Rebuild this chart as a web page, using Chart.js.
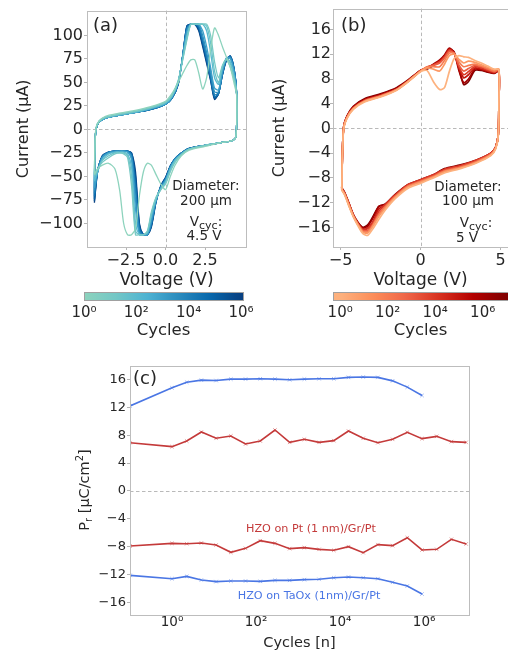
<!DOCTYPE html>
<html>
<head>
<meta charset="utf-8">
<script src="https://cdn.jsdelivr.net/npm/chart.js@4.4.0/dist/chart.umd.min.js"></script>
<style>
  html, body { margin: 0; padding: 0; background: #fff; overflow: hidden; }
  #page { position: relative; width: 508px; height: 650px; overflow: hidden; }
  canvas { position: absolute; left: 0; top: 0; }
</style>
</head>
<body>
<div id="page">
  <canvas id="pa" width="530" height="660"></canvas>
  <canvas id="pb" width="530" height="660"></canvas>
  <canvas id="ca" width="530" height="660"></canvas>
  <canvas id="cb" width="530" height="660"></canvas>
  <canvas id="pc" width="530" height="660"></canvas>
</div>
<script>
// ---- panel (a): 200 um, 4.5 V ----
const voltUpA = [-4.5, -4.47, -4.4, -4.2, -3.8, -3.0, -2.0, -1.0, 0, 0.4, 0.8, 1.1, 1.35, 1.6, 1.85, 2.1, 2.35, 2.6, 2.85, 3.1, 3.35, 3.6, 3.85, 4.1, 4.35, 4.5];
const voltDownA = [4.45, 4.2, 3.5, 2.5, 1.5, 1.0, 0.6, 0.3, 0, -0.3, -0.6, -0.9, -1.15, -1.4, -1.65, -1.9, -2.15, -2.4, -2.65, -2.9, -3.2, -3.6, -4.0, -4.3, -4.5];
const cyclesA = [1, 10, 30, 100, 1e3, 3e3, 1e4, 3e4, 1e5, 3e5, 1e6];
const curA_1 = [-48, -18, 2, 9, 14, 17, 20, 24, 30, 38, 50, 60, 68, 74, 74, 60, 43, 55, 85, 108, 100, 88, 77, 66, 48, 36,
  -8, -12, -14, -18, -22, -28, -38, -50, -64, -58, -48, -38, -36, -45, -70, -105, -112, -112, -100, -65, -42, -36, -38, -42, -48];
const curA_10 = [-48, -18, 1, 9, 13, 16, 19, 23, 29, 36, 52, 75, 95, 112, 112, 112, 112, 112, 100, 72, 55, 68, 74, 66, 52, 38,
  -8, -12, -14, -17, -21, -27, -35, -45, -58, -64, -72, -88, -108, -112, -112, -112, -60, -30, -26, -25, -26, -30, -35, -42, -48];
const curA_30 = [-50, -18, 1, 9, 13, 16, 19, 23, 29, 36, 51, 76, 97, 112, 112, 112, 112, 110, 92, 62, 50, 67, 75, 70, 54, 38,
  -8, -12, -14, -17, -21, -27, -34, -44, -57, -64, -73, -90, -109, -112, -112, -108, -50, -28, -25, -25, -25, -28, -33, -44, -50];
const curA_100 = [-55, -19, 0, 8, 12, 15, 18, 22, 28, 35, 50, 78, 100, 112, 112, 112, 112, 105, 82, 55, 48, 66, 75, 72, 56, 37,
  -8, -12, -14, -17, -21, -26, -33, -42, -56, -63, -74, -92, -110, -112, -112, -100, -40, -26, -24, -24, -24, -26, -32, -45, -55];
const curA_1e3 = [-62, -20, 0, 8, 12, 15, 18, 22, 27, 34, 50, 79, 104, 112, 112, 112, 105, 88, 66, 44, 42, 62, 76, 75, 60, 37,
  -8, -12, -14, -17, -21, -26, -32, -41, -54, -62, -75, -96, -112, -112, -112, -85, -32, -24, -23, -23, -24, -25, -30, -45, -62];
const curA_3e3 = [-65, -20, 0, 8, 12, 15, 18, 22, 27, 34, 50, 79, 105, 112, 112, 112, 100, 82, 62, 40, 40, 61, 76, 76, 61, 37,
  -8, -12, -14, -17, -21, -26, -32, -40, -54, -62, -75, -98, -112, -112, -110, -75, -30, -24, -23, -23, -23, -25, -30, -45, -65];
const curA_1e4 = [-68, -20, 0, 8, 12, 15, 18, 21, 27, 33, 49, 80, 107, 112, 112, 110, 96, 78, 58, 37, 39, 60, 75, 77, 62, 37,
  -8, -12, -14, -17, -20, -25, -31, -40, -53, -61, -76, -100, -112, -112, -108, -65, -28, -23, -23, -23, -23, -24, -29, -44, -68];
const curA_3e4 = [-71, -20, 0, 8, 12, 15, 18, 21, 27, 33, 49, 80, 108, 112, 112, 109, 94, 76, 56, 35, 38, 59, 75, 77, 62, 37,
  -8, -12, -14, -17, -20, -25, -31, -40, -53, -61, -76, -101, -112, -112, -106, -60, -27, -23, -23, -23, -23, -24, -29, -44, -71];
const curA_1e5 = [-74, -20, 0, 8, 12, 15, 18, 21, 27, 33, 48, 80, 109, 112, 112, 108, 92, 74, 55, 34, 38, 59, 74, 78, 63, 38,
  -8, -12, -14, -17, -20, -25, -31, -39, -52, -60, -76, -102, -112, -112, -104, -55, -26, -23, -23, -23, -23, -24, -29, -44, -74];
const curA_3e5 = [-76, -20, 0, 8, 12, 15, 18, 21, 27, 33, 48, 80, 110, 112, 112, 106, 90, 72, 53, 33, 38, 58, 74, 78, 63, 38,
  -8, -12, -14, -17, -20, -25, -31, -39, -51, -60, -77, -103, -112, -112, -102, -50, -25, -23, -23, -23, -23, -24, -28, -45, -76];
const curA_1e6 = [-78, -20, 0, 8, 12, 15, 18, 21, 27, 33, 48, 80, 110, 112, 112, 105, 88, 70, 52, 32, 38, 58, 73, 78, 63, 38,
  -8, -12, -14, -17, -20, -25, -31, -39, -51, -60, -77, -104, -112, -112, -100, -45, -25, -23, -23, -23, -23, -24, -28, -45, -78];
const ticksAx = [-2.5, 0, 2.5];
const ticksAy = [-100, -75, -50, -25, 0, 25, 50, 75, 100];

// ---- panel (b): 100 um, 5 V ----
const voltUpB = [-4.92, -4.88, -4.8, -4.6, -4.2, -3.5, -2.5, -1.5, -0.8, 0, 0.4, 0.8, 1.2, 1.5, 1.8, 2.1, 2.4, 2.7, 3.0, 3.4, 3.8, 4.2, 4.6, 4.9];
const voltDownB = [4.9, 4.86, 4.7, 4.4, 3.5, 2.5, 1.5, 0.8, 0, -0.8, -1.6, -2.2, -2.6, -3.0, -3.3, -3.6, -3.9, -4.2, -4.5, -4.75, -4.92];
const cyclesB = [1, 10, 100, 1e3, 1e4, 1e5, 1e6, 1e7];
const curB_1 = [-10.0, -4.2, 0, 1.6, 3.1, 4.3, 5.1, 6.2, 7.5, 9.2, 9.4, 7.6, 6.3, 6.6, 9.2, 11.3, 11.8, 11.6, 11.5, 11.0, 10.6, 10.1, 9.6, 9.5,
  4, -1.2, -3.3, -4.4, -5.6, -6.5, -7.2, -8.0, -8.9, -9.7, -11.4, -13.2, -14.7, -16.3, -17.3, -17.0, -15.8, -14.3, -12.4, -10.7, -10.0];
const curB_10 = [-9.9, -4.1, 0.1, 1.7, 3.2, 4.4, 5.2, 6.2, 7.5, 9.2, 9.8, 9.6, 9.3, 10.4, 11.8, 12.0, 11.2, 10.6, 10.9, 10.7, 10.3, 9.9, 9.5, 9.6,
  4, -1.1, -3.2, -4.3, -5.5, -6.4, -7.0, -7.9, -8.7, -9.5, -11.2, -12.9, -14.2, -15.9, -16.9, -16.8, -15.6, -14.2, -12.3, -10.6, -9.9];
const curB_100 = [-9.9, -4.0, 0.1, 1.7, 3.2, 4.4, 5.2, 6.3, 7.6, 9.3, 10.0, 10.0, 10.0, 11.0, 12.2, 12.2, 10.8, 10.0, 10.2, 10.4, 10.1, 9.7, 9.3, 9.5,
  4, -1.1, -3.1, -4.2, -5.4, -6.3, -6.9, -7.8, -8.6, -9.4, -11.1, -12.7, -14.0, -15.8, -16.7, -16.7, -15.6, -14.2, -12.2, -10.6, -9.9];
const curB_1e3 = [-9.8, -4.0, 0.2, 1.8, 3.3, 4.5, 5.3, 6.3, 7.6, 9.3, 9.9, 10.2, 10.6, 11.4, 12.5, 12.1, 10.3, 9.3, 9.7, 10.2, 10.0, 9.6, 9.2, 9.4,
  4, -1.0, -3.1, -4.1, -5.3, -6.2, -6.8, -7.7, -8.5, -9.3, -11.0, -12.6, -13.8, -15.6, -16.5, -16.5, -15.5, -14.1, -12.1, -10.5, -9.8];
const curB_1e4 = [-9.7, -3.9, 0.2, 1.8, 3.3, 4.5, 5.3, 6.3, 7.6, 9.3, 9.9, 10.3, 10.8, 11.6, 12.7, 12.2, 10.0, 8.7, 9.2, 10.0, 9.8, 9.4, 9.1, 9.4,
  4, -1.0, -3.0, -4.0, -5.1, -6.0, -6.6, -7.5, -8.3, -9.1, -10.8, -12.3, -13.4, -15.3, -16.2, -16.4, -15.4, -14.0, -12.0, -10.4, -9.7];
const curB_1e5 = [-9.7, -4.0, 0.3, 1.9, 3.4, 4.6, 5.4, 6.4, 7.7, 9.4, 9.8, 10.3, 10.9, 11.7, 12.8, 12.2, 9.8, 8.2, 8.7, 9.8, 9.6, 9.3, 9.0, 9.3,
  4, -1.0, -3.0, -4.0, -5.2, -6.1, -6.7, -7.6, -8.4, -9.2, -10.9, -12.4, -13.0, -15.2, -16.1, -16.3, -15.4, -14.0, -12.0, -10.4, -9.7];
const curB_1e6 = [-9.7, -4.0, 0.3, 1.9, 3.5, 4.7, 5.5, 6.5, 7.7, 9.4, 9.7, 10.4, 11.1, 11.9, 13.0, 12.3, 9.4, 7.4, 8.0, 9.6, 9.5, 9.2, 9.0, 9.3,
  4, -1.0, -3.0, -4.0, -5.2, -6.0, -6.6, -7.6, -8.4, -9.2, -10.8, -12.3, -12.6, -14.6, -15.8, -16.1, -15.3, -14.0, -12.0, -10.4, -9.7];
const curB_1e7 = [-9.6, -3.9, 0.3, 2.0, 3.6, 4.8, 5.6, 6.6, 7.8, 9.4, 9.6, 10.2, 10.9, 11.8, 12.7, 12.4, 9.8, 7.1, 7.6, 9.4, 9.4, 9.1, 8.9, 9.3,
  4, -1.0, -3.0, -4.0, -5.1, -5.9, -6.5, -7.5, -8.3, -9.1, -10.7, -12.2, -12.6, -14.4, -15.6, -16.0, -15.2, -13.9, -11.9, -10.3, -9.6];
const ticksBx = [-5, 0, 5];
const ticksBy = [-16, -12, -8, -4, 0, 4, 8, 12, 16];

// ---- colorbars ----
const cbarTicksA = [1, 100, 1e4, 1e6];
const cbarTicksB = [1, 100, 1e4, 1e6];

// ---- panel (c): remanent polarization vs cycles ----
const cyclesC = [0.1, 1, 2.24, 5, 11.2, 25.1, 56.2, 126, 282, 631, 1413, 3162, 7079, 15849, 35481, 79433, 177828, 398107, 891251, 1995262, 4466836, 10000000];
const taoxUp = [12.2, 14.8, 15.6, 15.9, 15.85, 16.05, 16.05, 16.1, 16.05, 15.95, 16.05, 16.1, 16.1, 16.3, 16.35, 16.3, 15.8, 14.9, 13.7];
const taoxDown = [-12.1, -12.58, -12.25, -12.77, -13.0, -12.91, -12.91, -12.96, -12.82, -12.82, -12.72, -12.67, -12.44, -12.34, -12.44, -12.58, -13.1, -13.63, -14.78];
const ptUp = [6.93, 6.36, 7.17, 8.46, 7.56, 7.89, 6.74, 7.17, 8.75, 6.98, 7.41, 6.98, 7.22, 8.6, 7.56, 6.93, 7.41, 8.42, 7.51, 7.84, 7.08, 6.98];
const ptDown = [-7.89, -7.51, -7.56, -7.46, -7.75, -8.8, -8.23, -7.13, -7.51, -8.27, -8.13, -8.37, -8.51, -7.99, -8.85, -7.7, -7.84, -6.7, -8.46, -8.37, -6.93, -7.6];
const ticksCx = [1, 100, 1e4, 1e6];
const ticksCy = [-16, -12, -8, -4, 0, 4, 8, 12, 16];

// ---------------------------------------------------------------
const W = 530, H = 660;
const FONT = '"DejaVu Sans"';
const INK = '#262626';
const stopsA = ['#8dd3bd', '#73c7c6', '#4eb3d3', '#2b8cbe', '#0868ac', '#084081'];
const stopsB = ['#fdb27f', '#fc8d59', '#ef6548', '#d7301f', '#b30000', '#7f0000'];
const SUP = { 0: '\u2070', 1: '\u00b9', 2: '\u00b2', 3: '\u00b3', 4: '\u2074', 5: '\u2075', 6: '\u2076', 7: '\u2077' };

function cmap(stops, t) {
  t = Math.min(1, Math.max(0, t));
  const n = stops.length - 1;
  const k = Math.min(n - 1, Math.floor(t * n));
  const f = t * n - k;
  const p = s => [1, 3, 5].map(i => parseInt(s.substr(i, 2), 16));
  const a = p(stops[k]), b = p(stops[k + 1]);
  return 'rgb(' + a.map((v, i) => Math.round(v + (b[i] - v) * f)).join(',') + ')';
}
const minus = s => String(s).replace('-', '\u2212');
const pow10 = v => '10' + SUP[Math.round(Math.log10(v))];

function drawRich(ctx, parts, x, y, align, color, rot) {
  ctx.save();
  ctx.translate(x, y);
  if (rot) ctx.rotate(rot);
  ctx.fillStyle = color;
  ctx.textBaseline = 'alphabetic';
  let w = 0;
  parts.forEach(p => { ctx.font = p.s + 'px ' + FONT; p.w = ctx.measureText(p.t).width; w += p.w; });
  let cx = align === 'center' ? -w / 2 : align === 'right' ? -w : 0;
  parts.forEach(p => { ctx.font = p.s + 'px ' + FONT; ctx.fillText(p.t, cx, p.dy || 0); cx += p.w; });
  ctx.restore();
}

const deco = {
  id: 'deco',
  beforeDatasetsDraw(chart, args, o) {
    const { ctx, chartArea: a, scales } = chart;
    ctx.save();
    if (o.gradient) {
      const g = ctx.createLinearGradient(a.left, 0, a.right, 0);
      const lo = Math.log10(scales.x.min), hi = Math.log10(scales.x.max);
      for (let i = 0; i <= 20; i++) {
        const lv = lo + (hi - lo) * i / 20;
        g.addColorStop(i / 20, cmap(o.gradient, (lv - o.from) / (o.to - o.from)));
      }
      ctx.fillStyle = g;
      ctx.fillRect(a.left, a.top, a.right - a.left, a.bottom - a.top);
    }
    ctx.strokeStyle = '#b9b9b9';
    ctx.lineWidth = 1;
    ctx.setLineDash([3.5, 2.5]);
    if (o.zeroX) {
      const px = Math.round(scales.x.getPixelForValue(0)) + 0.5;
      ctx.beginPath(); ctx.moveTo(px, a.top); ctx.lineTo(px, a.bottom); ctx.stroke();
    }
    if (o.zeroY) {
      const py = Math.round(scales.y.getPixelForValue(0)) + 0.5;
      ctx.beginPath(); ctx.moveTo(a.left, py); ctx.lineTo(a.right, py); ctx.stroke();
    }
    ctx.restore();
  },
  afterDatasetsDraw(chart, args, o) {
    const { ctx, chartArea: a } = chart;
    ctx.save();
    ctx.strokeStyle = o.frameColor || '#bdbdbd';
    ctx.lineWidth = 1;
    ctx.strokeRect(Math.round(a.left) + 0.5, Math.round(a.top) + 0.5, Math.round(a.right - a.left), Math.round(a.bottom - a.top));
    ctx.restore();
    (o.texts || []).forEach(t => drawRich(ctx, t.parts, t.x, t.y, t.align, t.color || INK, t.rot));
  }
};
Chart.register(deco);

function axis(type, min, max, tickVals, fmt, size, pad, extra, marks = true) {
  return Object.assign({
    type, min, max,
    grid: marks ? { display: true, drawOnChartArea: false, drawTicks: true, tickLength: 3, tickColor: '#b5b5b5' } : { display: false },
    border: { display: false },
    afterBuildTicks: s => { s.ticks = tickVals.map(v => ({ value: v })); },
    ticks: { callback: fmt, color: INK, font: { family: 'DejaVu Sans', size }, padding: pad, maxRotation: 0, autoSkip: false }
  }, extra || {});
}

function makeChart(id, box, datasets, xs, ys, deco) {
  xs.afterFit = s => { s.height = box.xh; };
  if (ys.display !== false) ys.afterFit = s => { s.width = box.yw; };
  return new Chart(document.getElementById(id), {
    type: 'scatter',
    data: { datasets },
    options: {
      responsive: false,
      animation: false,
      layout: { padding: { left: box.l - box.yw, right: W - box.r, top: box.t, bottom: H - box.b - box.xh } },
      scales: { x: xs, y: ys },
      plugins: { legend: { display: false }, tooltip: { enabled: false }, deco }
    }
  });
}

function loops(volt, curves, cycles, stops, span, width) {
  return cycles.map((c, i) => ({
    data: volt.map((v, j) => ({ x: v, y: curves[i][j] })),
    showLine: true,
    borderColor: cmap(stops, Math.log10(c) / span),
    borderWidth: width,
    pointRadius: 0,
    tension: 0.25
  }));
}

const titleFont = (size) => ({ family: 'DejaVu Sans', size });

// panel (a)
makeChart('pa', { l: 87, r: 246, t: 7, b: 247, yw: 72.6, xh: 43.5 },
  loops(voltUpA.concat(voltDownA),
    [curA_1, curA_10, curA_30, curA_100, curA_1e3, curA_3e3, curA_1e4, curA_3e4, curA_1e5, curA_3e5, curA_1e6],
    cyclesA, stopsA, 6, 1.3),
  axis('linear', -4.97, 5.09, ticksAx, v => minus(v.toFixed(1)), 16, 1,
    { title: { display: true, text: 'Voltage (V)', color: INK, font: titleFont(17), padding: 0 } }),
  axis('linear', -125, 126.4, ticksAy, v => minus(v), 16, 1,
    { title: { display: true, text: 'Current (\u03bcA)', color: INK, font: titleFont(16), padding: 0 } }),
  { zeroX: true, zeroY: true, texts: [
    { parts: [{ t: '(a)', s: 18 }], x: 93, y: 30.5, align: 'left' },
    { parts: [{ t: 'Diameter:', s: 13.5 }], x: 206, y: 190, align: 'center' },
    { parts: [{ t: '200 \u03bcm', s: 13.5 }], x: 206, y: 205, align: 'center' },
    { parts: [{ t: 'V', s: 13.5 }, { t: 'cyc', s: 11, dy: 3 }, { t: ':', s: 13.5 }], x: 206, y: 226, align: 'center' },
    { parts: [{ t: '4.5 V', s: 13.5 }], x: 204, y: 240, align: 'center' }
  ] });

// panel (b)
makeChart('pb', { l: 333, r: 508, t: 7, b: 247, yw: 62.6, xh: 43.5 },
  loops(voltUpB.concat(voltDownB),
    [curB_1, curB_10, curB_100, curB_1e3, curB_1e4, curB_1e5, curB_1e6, curB_1e7],
    cyclesB, stopsB, 7, 1.7),
  axis('linear', -5.47, 5.47, ticksBx, v => minus(v), 16, 1,
    { title: { display: true, text: 'Voltage (V)', color: INK, font: titleFont(17), padding: 0 } }),
  axis('linear', -19.18, 19.4, ticksBy, v => minus(v), 16, -1,
    { title: { display: true, text: 'Current (\u03bcA)', color: INK, font: titleFont(16), padding: 0 } }),
  { zeroX: true, zeroY: true, texts: [
    { parts: [{ t: '(b)', s: 18 }], x: 341, y: 30.5, align: 'left' },
    { parts: [{ t: 'Diameter:', s: 13.5 }], x: 468, y: 191, align: 'center' },
    { parts: [{ t: '100 \u03bcm', s: 13.5 }], x: 468, y: 205, align: 'center' },
    { parts: [{ t: 'V', s: 13.5 }, { t: 'cyc', s: 11, dy: 3 }, { t: ':', s: 13.5 }], x: 476, y: 227, align: 'center' },
    { parts: [{ t: '5 V', s: 13.5 }], x: 467, y: 242, align: 'center' }
  ] });

// colorbars
function cbar(id, box, min, max, ticks, stops, span) {
  makeChart(id, box, [],
    axis('logarithmic', min, max, ticks, v => pow10(v), 15, -3.5,
      { title: { display: true, text: 'Cycles', color: INK, font: titleFont(16.5), padding: 0 } }, false),
    { display: false, type: 'linear', min: 0, max: 1 },
    { gradient: stops, from: 0, to: span, frameColor: '#a0a0a0' });
}
cbar('ca', { l: 84, r: 243, t: 292, b: 300, yw: 0, xh: 41 }, 1, 1.2e6, cbarTicksA, stopsA, 6);
cbar('cb', { l: 333, r: 508, t: 292, b: 300, yw: 0, xh: 41 }, 0.5, 1.17e7, cbarTicksB, stopsB, 7);

// panel (c)
const BLUE = '#4a76e4', RED = '#c43a3a';
function series(vals, color) {
  return {
    data: vals.map((v, i) => ({ x: cyclesC[i], y: v })),
    showLine: true, borderColor: color, borderWidth: 1.6,
    pointStyle: 'crossRot', pointRadius: 2.5, pointBorderWidth: 0.8,
    pointBorderColor: color + '99', pointBackgroundColor: color
  };
}
makeChart('pc', { l: 130, r: 469, t: 366, b: 615, yw: 70, xh: 36.7 },
  [series(taoxUp, BLUE), series(taoxDown, BLUE), series(ptUp, RED), series(ptDown, RED)],
  axis('logarithmic', 0.1, 1.17e7, ticksCx, v => pow10(v), 13.5, -4,
    { title: { display: true, text: 'Cycles [n]', color: INK, font: titleFont(14.5), padding: 0 } }),
  axis('linear', -17.79, 17.93, ticksCy, v => minus(v), 13, 1),
  { zeroY: true, texts: [
    { parts: [{ t: '(c)', s: 18 }], x: 133, y: 384, align: 'left' },
    { parts: [{ t: 'HZO on Pt (1 nm)/Gr/Pt', s: 11.2 }], x: 311, y: 532, align: 'center', color: RED },
    { parts: [{ t: 'HZO on TaOx (1nm)/Gr/Pt', s: 11.2 }], x: 309, y: 598.5, align: 'center', color: BLUE },
    { parts: [{ t: 'P', s: 14.5 }, { t: 'r', s: 10, dy: 3 }, { t: ' [\u03bcC/cm', s: 14.5 }, { t: '2', s: 10, dy: -6 }, { t: ']', s: 14.5 }],
      x: 88.5, y: 490, align: 'center', rot: -Math.PI / 2 }
  ] });
</script>
</body>
</html>
